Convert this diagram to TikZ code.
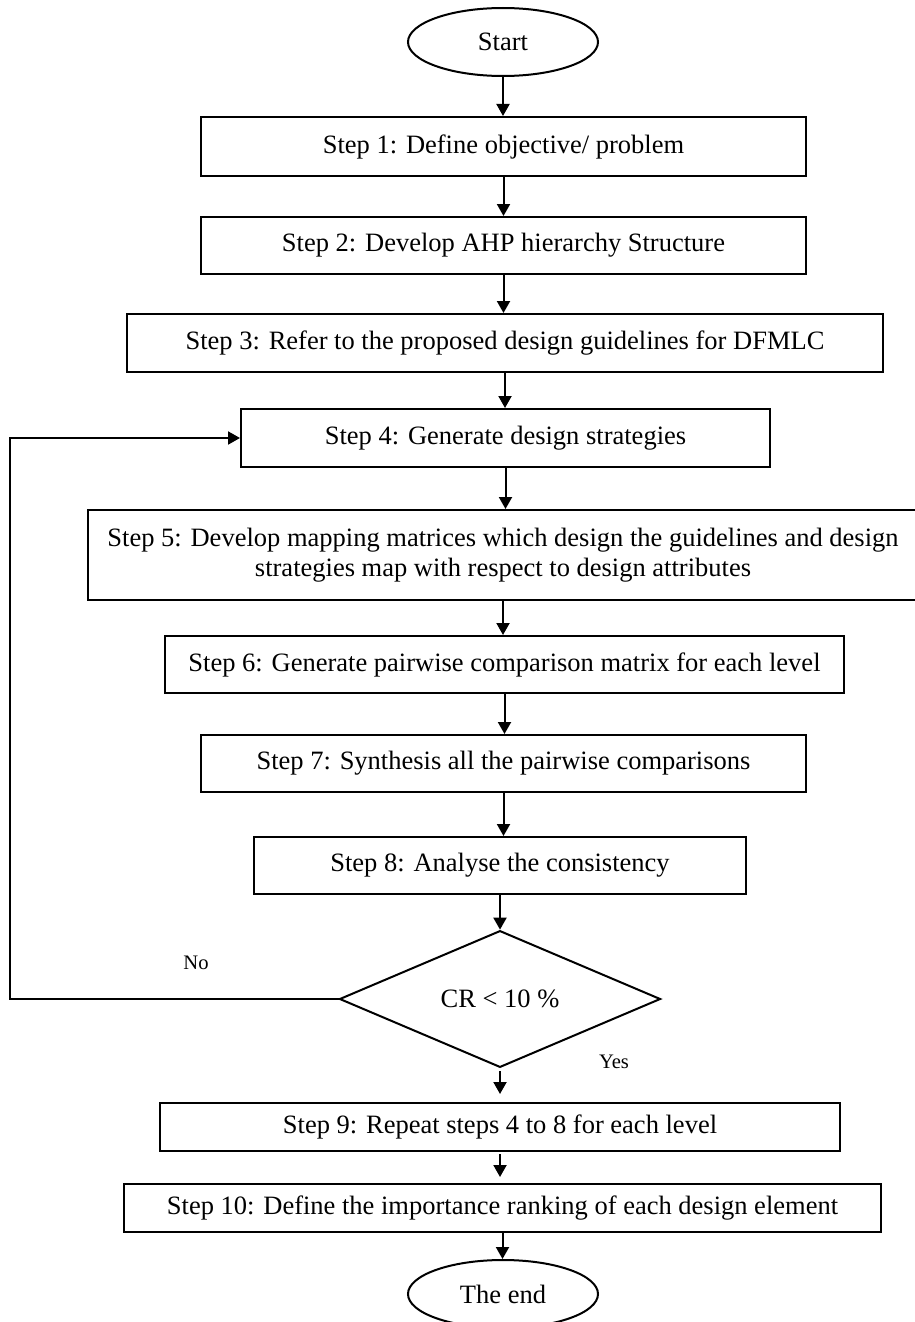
\documentclass[tikz,border=0pt]{standalone}
\usepackage{fontspec}
\setmainfont{Liberation Serif}
\usetikzlibrary{shapes.geometric,arrows.meta}

\begin{document}
\begin{tikzpicture}[x=0.5pt,y=-0.5pt,
  every node/.style={font=\fontsize{13.25pt}{15pt}\selectfont},
  stepbox/.style={draw,line width=1pt,inner sep=0pt},
  term/.style={draw,ellipse,line width=1pt,inner sep=0pt,minimum width=95pt,minimum height=34pt},
  decision/.style={draw,diamond,line width=1pt,inner sep=0pt,minimum width=160.5pt,minimum height=66.5pt},
  lbl/.style={font=\fontsize{10.3pt}{12pt}\selectfont},
  arr/.style={line width=1pt,-{Triangle[width=6.5pt,length=6pt]}}]
\useasboundingbox (0,0) rectangle (915,1322);

% Inicio
\node[term] (start) at (503,42) {Start};

% Pasos
\node[stepbox,minimum width=302.5pt,minimum height=29.5pt] (s1) at (503.5,146.5) {Step 1: Define objective/ problem};
\node[stepbox,minimum width=302.5pt,minimum height=28.5pt] (s2) at (503.5,245.5) {Step 2: Develop AHP hierarchy Structure};
\node[stepbox,minimum width=378pt,minimum height=29pt] (s3) at (505,343) {Step 3: Refer to the proposed design guidelines for DFMLC};
\node[stepbox,minimum width=264.5pt,minimum height=29pt] (s4) at (505.5,438) {Step 4: Generate design strategies};
\node[stepbox,minimum width=415pt,minimum height=45pt,align=center] (s5) at (503,555)
  {Step 5: Develop mapping matrices which design the guidelines and design\\ strategies map with respect to design attributes};
\node[stepbox,minimum width=339.5pt,minimum height=28.5pt] (s6) at (504.5,664.5) {Step 6: Generate pairwise comparison matrix for each level};
\node[stepbox,minimum width=302.5pt,minimum height=28.5pt] (s7) at (503.5,763.5) {Step 7: Synthesis all the pairwise comparisons};
\node[stepbox,minimum width=246pt,minimum height=28.5pt] (s8) at (500,865.5) {Step 8: Analyse the consistency};

% Decision
\node[decision] (dec) at (500,999) {CR < 10 \%};
\node[lbl] (no) at (196,963) {No};
\node[lbl] (yes) at (614,1062) {Yes};

% Final
\node[stepbox,minimum width=340pt,minimum height=24pt] (s9) at (500,1127) {Step 9: Repeat steps 4 to 8 for each level};
\node[stepbox,minimum width=378.5pt,minimum height=24pt] (s10) at (502.5,1208) {Step 10: Define the importance ranking of each design element};
\node[term] (end) at (503,1294) {The end};

% Flechas
\foreach \a/\b in {start/s1,s1/s2,s2/s3,s3/s4,s4/s5,s5/s6,s6/s7,s7/s8,s8/dec,s10/end}
  \draw[arr] (\a.south) -- (\a.south |- \b.north);
\draw[arr,shorten <=1.5pt,shorten >=4pt] (dec.south) -- (dec.south |- s9.north);
\draw[arr,shorten <=1pt,shorten >=3pt] (s9.south) -- (s9.south |- s10.north);

% Retorno
\coordinate (back) at (10,999);
\draw[arr] (dec.west) -- (back) |- (s4.west);
\end{tikzpicture}
\end{document}
